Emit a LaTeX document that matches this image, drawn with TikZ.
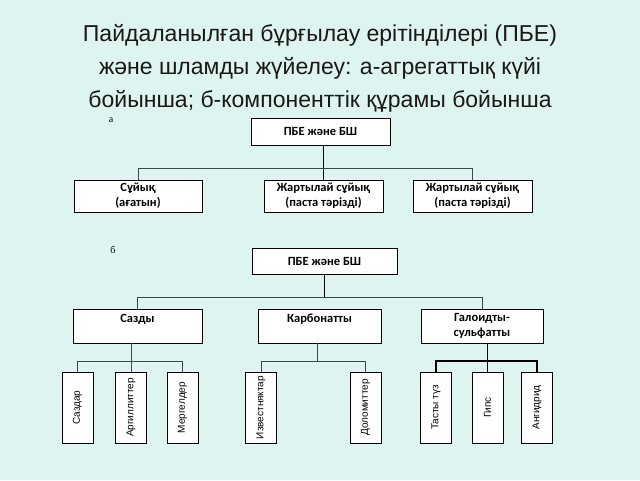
\documentclass[tikz,border=0pt]{standalone}
\usepackage{fontspec}
\setmainfont{Liberation Sans}
\newfontfamily\boxfont{Carlito}
\newfontfamily\seriffont{Liberation Serif}
\definecolor{bgcol}{HTML}{DDF4F0}
\definecolor{linecol}{HTML}{3A4A46}
\begin{document}
\begin{tikzpicture}[x=1pt,y=-1pt,
  catbox/.style={draw=black, line width=0.9pt, fill=white, inner sep=1pt,
    font=\boxfont\bfseries\fontsize{12.5}{15}\selectfont, align=center},
  leafbox/.style={draw=black, line width=0.9pt, fill=white, minimum width=71pt, minimum height=31pt,
    rotate=90, inner sep=1pt, font=\fontsize{10}{11}\selectfont},
  conn/.style={draw=linecol, line width=0.8pt},
  conn2/.style={draw=black, line width=1.1pt}]
\fill[bgcol] (0,0) rectangle (640,480);
\useasboundingbox (0,0) rectangle (640,480);
% title
\node[font=\fontsize{23}{33}\selectfont, align=center, text=black!90] (title) at (320,68)
  {Пайдаланылған бұрғылау ерітінділері (ПБЕ)\\және шламды жүйелеу: а-агрегаттық күйі\\бойынша; б-компоненттік құрамы бойынша};
% part a
\node[font=\seriffont\fontsize{10}{12}\selectfont] (la) at (111,120) {а};
\node[catbox, minimum width=139pt, minimum height=27pt] (ta) at (320.5,131.5) {ПБЕ және БШ};
\node[catbox, minimum width=128pt, minimum height=32pt] (a1) at (138,196) {Сұйық\\(ағатын)};
\node[catbox, minimum width=119pt, minimum height=32pt] (a2) at (323.5,196) {Жартылай сұйық\\(паста тәрізді)};
\node[catbox, minimum width=119pt, minimum height=32pt] (a3) at (472.5,196) {Жартылай сұйық\\(паста тәрізді)};
\coordinate (busa) at (0,168);
\draw[conn2] (ta.south -| a2.north) -- (a2.north);
\draw[conn] (a1.north) |- (a3.north |- busa) -- (a3.north);
% part b
\node[font=\seriffont\fontsize{10}{12}\selectfont] (lb) at (113,250) {б};
\node[catbox, minimum width=145pt, minimum height=26pt] (tb) at (324.5,261) {ПБЕ және БШ};
\node[catbox, minimum width=129pt, minimum height=34pt] (b1) at (137.5,326) {Сазды\\\mbox{}};
\node[catbox, minimum width=123pt, minimum height=34pt] (b2) at (319.5,326) {Карбонатты\\\mbox{}};
\node[catbox, minimum width=122pt, minimum height=34pt] (b3) at (482,326) {Галоидты-\\сульфатты};
\coordinate (busb) at (0,297);
\draw[conn2] (tb.south) -- (tb.south |- busb);
\draw[conn] (b1.north) |- (b3.north |- busb) -- (b3.north);
% leaves
\node[leafbox] (l1) at (77.5,407.5) {Саздар};
\node[leafbox] (l2) at (131,407.5) {Аргиллиттер};
\node[leafbox] (l3) at (182.5,407.5) {Мергелдер};
\node[leafbox] (l4) at (261,407.5) {Известняктар};
\node[leafbox] (l5) at (365.5,407.5) {Доломиттер};
\node[leafbox] (l6) at (436,407.5) {Тасты түз};
\node[leafbox] (l7) at (487.5,407.5) {Гипс};
\node[leafbox] (l8) at (537,407.5) {Ангидрид};
\coordinate (busl) at (0,361);
\draw[conn] (l2.east |- b1.south) -- (l2.east);
\draw[conn] (l1.east) |- (l3.east |- busl) -- (l3.east);
\draw[conn] (b2.south -| 317,0) -- (317,361);
\draw[conn] (l4.east) |- (l5.east |- busl) -- (l5.east);
\draw[conn2] (l7.east |- b3.south) -- (l7.east);
\draw[conn2] (l6.east) |- (l8.east |- busl) -- (l8.east);
\end{tikzpicture}
\end{document}
